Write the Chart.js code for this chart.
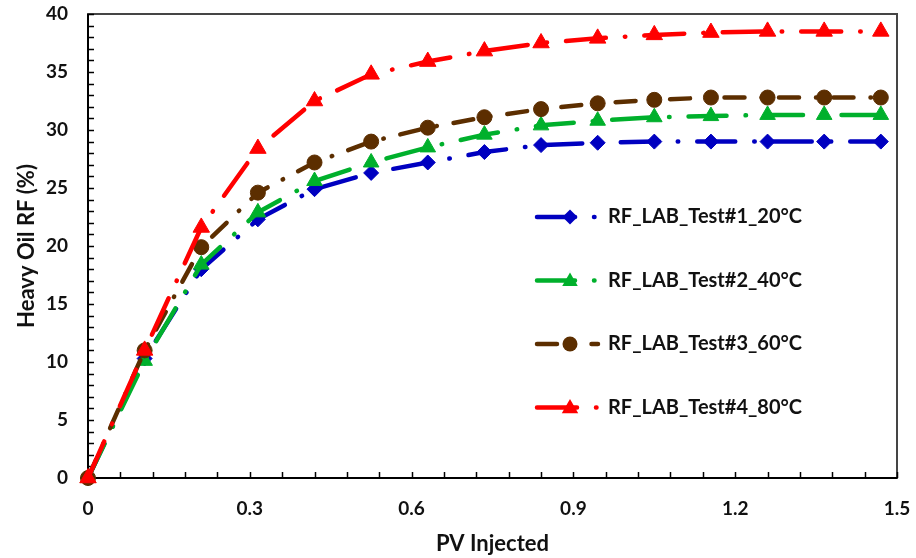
<!DOCTYPE html>
<html>
<head>
<meta charset="utf-8">
<script src="https://cdn.jsdelivr.net/npm/chart.js@4.4.0/dist/chart.umd.min.js"></script>
<style>
  html, body { margin: 0; padding: 0; background: #fff; }
</style>
</head>
<body>
<canvas id="rfChart" width="916" height="558"></canvas>
<script>
// data
const pvInjected = [0, 0.105, 0.21, 0.315, 0.42, 0.525, 0.63, 0.735, 0.84, 0.945, 1.05, 1.155, 1.26, 1.365, 1.47];
const rfTest1 = [0, 10.3, 18.0, 22.3, 24.9, 26.3, 27.2, 28.1, 28.7, 28.9, 29.0, 29.0, 29.0, 29.0, 29.0];
const rfTest2 = [0, 10.1, 18.4, 22.9, 25.6, 27.2, 28.5, 29.6, 30.4, 30.8, 31.1, 31.2, 31.3, 31.3, 31.3];
const rfTest3 = [0, 11.0, 19.9, 24.6, 27.2, 29.0, 30.2, 31.1, 31.8, 32.3, 32.6, 32.8, 32.8, 32.8, 32.8];
const rfTest4 = [0, 11.0, 21.6, 28.4, 32.5, 34.8, 35.9, 36.8, 37.5, 37.9, 38.2, 38.4, 38.5, 38.5, 38.5];
const seriesNames = ["RF_LAB_Test#1_20°C", "RF_LAB_Test#2_40°C", "RF_LAB_Test#3_60°C", "RF_LAB_Test#4_80°C"];
const xTickLabels = ["0", "0.3", "0.6", "0.9", "1.2", "1.5"];
const yTickLabels = ["0", "5", "10", "15", "20", "25", "30", "35", "40"];

const FONT = "Lato, 'Open Sans', sans-serif";

function makeSeries(label, values, color, pointStyle, radius, dash, order) {
  return {
    label,
    data: pvInjected.map((x, i) => ({ x, y: values[i] })),
    borderColor: color,
    backgroundColor: color,
    pointBackgroundColor: color,
    pointBorderColor: color,
    pointStyle,
    pointRadius: radius,
    pointBorderWidth: 1,
    borderWidth: 4.5,
    borderDash: dash,
    borderCapStyle: "round",
    showLine: true,
    tension: 0,
    clip: false,
    order
  };
}

/*
 MARKER (legend only)
*/
function drawMarker(ctx, style, x, y, r) {
  ctx.beginPath();
  if (style === "rectRot") {
    ctx.moveTo(x, y - r); ctx.lineTo(x + r, y); ctx.lineTo(x, y + r); ctx.lineTo(x - r, y);
  } else if (style === "triangle") {
    ctx.moveTo(x, y - r);
    ctx.lineTo(x + r * 0.866, y + r / 2);
    ctx.lineTo(x - r * 0.866, y + r / 2);
  } else {
    ctx.arc(x, y, r, 0, Math.PI * 2);
  }
  ctx.closePath();
  ctx.fill();
}

/*
 FRAME + INWARD TICKS + LEGEND
*/
const framePlugin = {
  id: "frame",
  beforeDatasetsDraw(chart) {
    const { ctx, chartArea: a, scales } = chart;
    ctx.save();
    ctx.strokeStyle = "#454545";
    ctx.lineWidth = 2;
    ctx.strokeRect(a.left, a.top, a.right - a.left, a.bottom - a.top);

    ctx.strokeStyle = "#000";
    ctx.lineWidth = 2;
    ctx.beginPath();
    ctx.moveTo(a.left, a.top); ctx.lineTo(a.left, a.bottom); ctx.lineTo(a.right, a.bottom);
    ctx.stroke();

    ctx.lineWidth = 1.5;
    ctx.beginPath();
    for (let v = 0; v <= 40.001; v += 1) {
      const py = Math.round(scales.y.getPixelForValue(v)) + 0.5;
      ctx.moveTo(a.left, py); ctx.lineTo(a.left + 6, py);
    }
    for (let k = 0; k <= 25; k++) {
      const px = Math.round(scales.x.getPixelForValue(k * 0.06)) + 0.5;
      ctx.moveTo(px, a.bottom); ctx.lineTo(px, a.bottom - 6);
    }
    ctx.stroke();
    ctx.restore();
  },
  afterDraw(chart) {
    const { ctx } = chart;
    ctx.save();
    chart.data.datasets.forEach((ds, i) => {
      const y = 217 + i * 63.5;
      ctx.strokeStyle = ds.borderColor;
      ctx.fillStyle = ds.borderColor;
      ctx.lineWidth = 4.5;
      ctx.lineCap = "round";
      ctx.setLineDash(ds.borderDash);
      ctx.beginPath();
      ctx.moveTo(537, y); ctx.lineTo(598, y);
      ctx.stroke();
      ctx.setLineDash([]);
      drawMarker(ctx, ds.pointStyle, 570, ds.pointStyle === "triangle" ? y + 1 : y, ds.pointRadius);
      ctx.font = "bold 20px " + FONT;
      ctx.fillStyle = "#111";
      ctx.textBaseline = "middle";
      ctx.fillText(ds.label, 608, y);
    });
    ctx.restore();
  }
};

const ctx = document.getElementById("rfChart").getContext("2d");

new Chart(ctx, {
  type: "scatter",
  data: {
    datasets: [
      makeSeries(seriesNames[0], rfTest1, "#0000c0", "rectRot", 7.5, [38, 19, 0.5, 19], 4),
      makeSeries(seriesNames[1], rfTest2, "#00b02c", "triangle", 9, [38, 19, 0.5, 19], 3),
      makeSeries(seriesNames[2], rfTest3, "#5c2e00", "circle", 7.5, [20, 17, 0.5, 17], 2),
      makeSeries(seriesNames[3], rfTest4, "#ff0000", "triangle", 9.5, [40, 19, 0.5, 19], 1)
    ]
  },
  options: {
    responsive: false,
    animation: false,
    layout: { padding: { left: 0, right: 19, top: 14, bottom: 0 } },
    plugins: {
      legend: { display: false },
      tooltip: { enabled: false }
    },
    scales: {
      x: {
        type: "linear",
        min: 0,
        max: 1.5,
        afterFit: s => { s.height = 80; s.paddingLeft = 0; s.paddingRight = 0; },
        afterBuildTicks: s => { s.ticks = xTickLabels.map(t => ({ value: parseFloat(t) })); },
        grid: { display: false, drawTicks: false },
        border: { display: false },
        ticks: {
          padding: 19,
          color: "#111",
          font: { family: FONT, size: 19, weight: "bold" },
          callback: (v, i) => xTickLabels[i]
        },
        title: {
          display: true,
          text: "PV Injected",
          color: "#111",
          font: { family: FONT, size: 22, weight: "bold" },
          padding: { top: 0, bottom: 1 }
        }
      },
      y: {
        type: "linear",
        min: 0,
        max: 40,
        afterFit: s => { s.width = 88; s.paddingTop = 0; s.paddingBottom = 0; },
        afterBuildTicks: s => { s.ticks = yTickLabels.map(t => ({ value: parseFloat(t) })); },
        grid: { display: false, drawTicks: false },
        border: { display: false },
        ticks: {
          padding: 20,
          color: "#111",
          font: { family: FONT, size: 19, weight: "bold" },
          callback: (v, i) => yTickLabels[i]
        },
        title: {
          display: true,
          text: "Heavy Oil RF (%)",
          color: "#111",
          font: { family: FONT, size: 22, weight: "bold" },
          padding: { top: 14, bottom: 0 }
        }
      }
    }
  },
  plugins: [framePlugin]
});
</script>
</body>
</html>
